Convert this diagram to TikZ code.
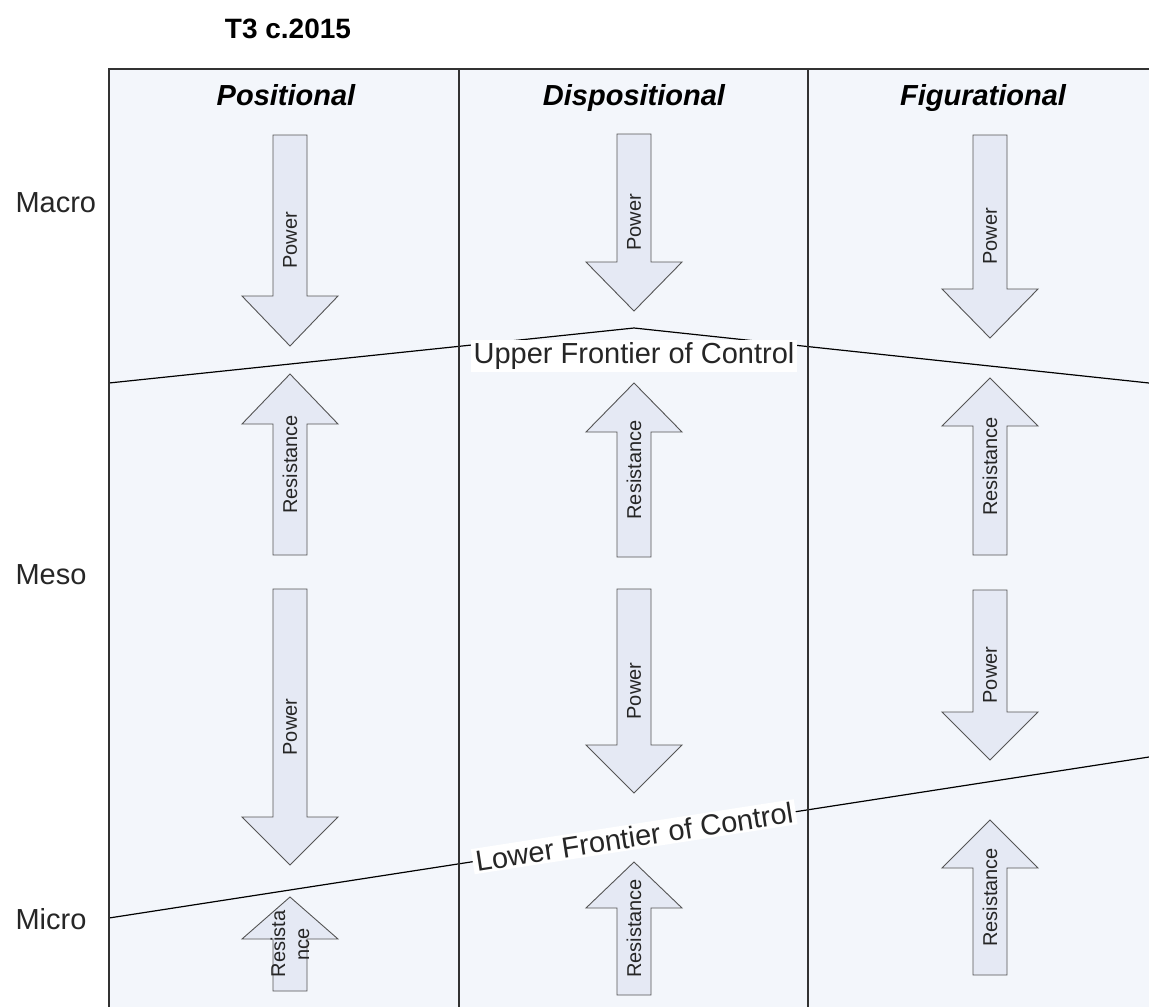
\documentclass[tikz,border=0pt]{standalone}
\usepackage{fontspec}
\setmainfont{Liberation Sans}
\definecolor{tablebg}{RGB}{243,246,251}
\definecolor{arrowfill}{RGB}{229,233,244}
\definecolor{arrowline}{RGB}{85,85,85}
\definecolor{gridline}{RGB}{50,50,50}
\tikzset{
  arrowbody/.style={draw=arrowline, fill=arrowfill, line width=0.9pt},
  arrowtext/.style={rotate=90, font=\fontsize{20}{24}\selectfont, text=black!85, align=center, inner sep=0pt},
  headtext/.style={font=\fontsize{29}{34}\selectfont\bfseries\itshape, anchor=base},
  rowtext/.style={font=\fontsize{29}{34}\selectfont, anchor=west, text=black!85},
  frontier/.style={line width=1.2pt, black},
  frontlabel/.style={fill=white, inner xsep=3pt, inner ysep=2pt, font=\fontsize{29}{34}\selectfont, text=black!85}
}
% down arrow: name, x, top, head base, tip
\newcommand{\powerdown}[5]{%
  \draw[arrowbody] (#2-17,#3) -- (#2+17,#3) -- (#2+17,#4) -- (#2+48,#4) -- (#2,#5) -- (#2-48,#4) -- (#2-17,#4) -- cycle;
  \node[arrowtext] (#1) at (#2,{(#3+#5)/2}) {Power};
}
% up arrow: name, x, tip, head base, bottom, text
\newcommand{\resistup}[6]{%
  \draw[arrowbody] (#2,#3) -- (#2+48,#4) -- (#2+17,#4) -- (#2+17,#5) -- (#2-17,#5) -- (#2-17,#4) -- (#2-48,#4) -- cycle;
  \node[arrowtext] (#1) at (#2,{(#3+#5)/2}) {#6};
}
\begin{document}
\begin{tikzpicture}[x=1pt,y=-1pt]
\fill[white] (0,0) rectangle (1149,1007);
\useasboundingbox (0,0) rectangle (1149,1007);
\fill[tablebg] (109,69) rectangle (1149,1007);

% title, headers, levels
\node[font=\fontsize{28}{32}\selectfont\bfseries] (title) at (288,29) {T3 c.2015};
\node[headtext] (posit) at (286,105) {Positional};
\node[headtext] (dispo) at (634,105) {Dispositional};
\node[headtext] (figur) at (983,105) {Figurational};
\node[rowtext] (macro) at (12,203) {Macro};
\node[rowtext] (meso) at (12,575) {Meso};
\node[rowtext] (micro) at (12,919) {Micro};

% positional
\powerdown{pp1}{290}{135}{296}{346}
\resistup{pr1}{290}{374}{424}{555}{Resistance}
\powerdown{pp2}{290}{589}{817}{865}
\resistup{pr2}{290}{897}{939}{991}{Resista\\nce}

% dispositional
\powerdown{dp1}{634}{134}{262}{311}
\resistup{dr1}{634}{383}{432}{557}{Resistance}
\powerdown{dp2}{634}{589}{745}{793}
\resistup{dr2}{634}{862}{908}{995}{Resistance}

% figurational
\powerdown{fp1}{990}{135}{289}{338}
\resistup{fr1}{990}{378}{426}{555}{Resistance}
\powerdown{fp2}{990}{590}{712}{760}
\resistup{fr2}{990}{820}{868}{975}{Resistance}

% frontiers
\coordinate (upL) at (109,383);
\coordinate (upP) at (634,328);
\coordinate (upR) at (1149,383);
\coordinate (lowL) at (109,918);
\coordinate (lowR) at (1149,757);
\draw[frontier] (upL) -- (upP) -- (upR);
\node[frontlabel] (uplab) at (634,356) {Upper Frontier of Control};
\draw[frontier] (lowL) -- node[frontlabel, sloped, pos=0.505] (lowlab) {Lower Frontier of Control} (lowR);

% grid
\draw[gridline, line width=1.4pt] (109,1007) -- (109,69) -- (1149,69);
\draw[gridline, line width=1.4pt] (459,69) -- (459,1007);
\draw[gridline, line width=1.4pt] (808,69) -- (808,1007);
\end{tikzpicture}
\end{document}
